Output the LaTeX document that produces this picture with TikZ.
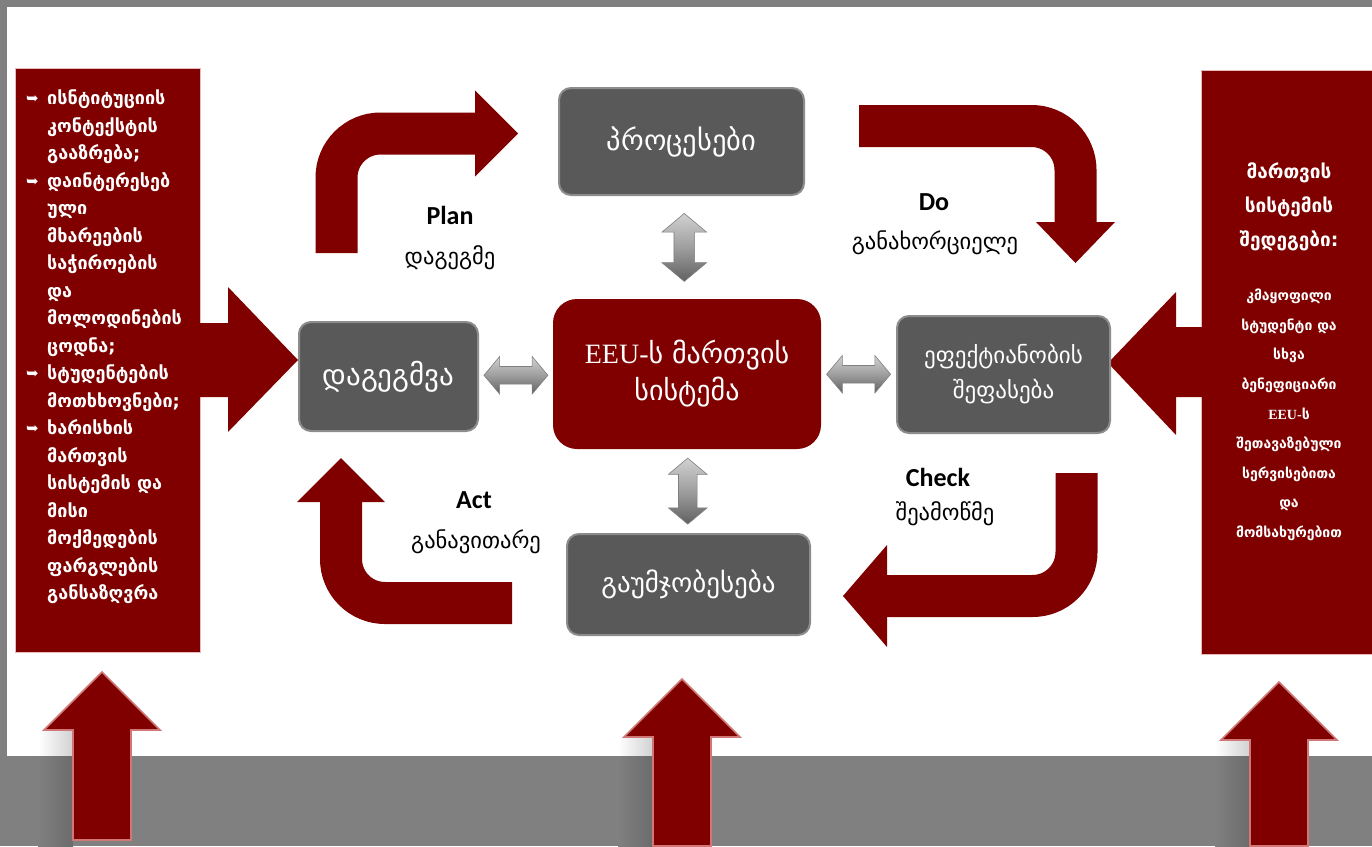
\documentclass[tikz,border=0pt]{standalone}
\usepackage{fontspec}
\setmainfont{DejaVu Sans}
\newfontfamily\calfont{Carlito}
\newfontfamily\serfont{Liberation Serif}
\newfontfamily\symfont{DejaVu Sans}
\usetikzlibrary{shapes.arrows,calc}

\definecolor{eeuRed}{HTML}{800000}
\definecolor{boxGray}{HTML}{595959}
\definecolor{rimGray}{HTML}{8C8C8C}
\definecolor{bgGray}{HTML}{808080}
\definecolor{rimRed}{HTML}{D07878}

\newcommand\lbul{\makebox[21pt][l]{\raisebox{1pt}{\symfont\fontsize{15}{15}\selectfont ➥}}}
\newcommand\lind{\hspace*{21pt}}

\begin{document}
\begin{tikzpicture}[x=1pt, y=-1pt,
    graybox/.style={fill=boxGray, draw=rimGray, line width=2pt, rounded corners=12pt, text=white, align=center, inner sep=0pt},
    corebox/.style={fill=eeuRed, rounded corners=24pt, text=white, align=center, inner sep=0pt},
    sidebox/.style={fill=eeuRed, draw=rimRed!50!white, line width=0.8pt, inner sep=0pt},
    dblarrow/.style={double arrow, double arrow head extend=10pt, double arrow tip angle=100, minimum height=64pt, inner xsep=0pt, inner ysep=8.5pt, shading=axis, top color=black!18, bottom color=black!62, middle color=black!38, draw=black!50, line width=0.6pt},
    bent/.style={draw=eeuRed, line width=42pt, rounded corners=44pt},
    head/.style={fill=eeuRed},
    uparrow/.style={fill=eeuRed, draw=rimRed, line width=1.6pt, line join=miter},
    pdca/.style={font=\calfont\bfseries\fontsize{26}{26}\selectfont},
    pdcageo/.style={font=\fontsize{22.5}{22.5}\selectfont}
]
    % Background
    \useasboundingbox (0,0) rectangle (1372,846);
    \fill[bgGray] (0,0) rectangle (1372,846);
    \fill[white] (7,7) rectangle (1372,756);

    % Side boxes
    \node[sidebox, minimum width=185pt, minimum height=584pt] (inputs) at (107.5,360) {};
    \node[sidebox, minimum width=172pt, minimum height=584pt] (outputs) at (1287,362) {};
    \fill[eeuRed] (199,323) -- (228,323) -- (228,287) -- (298,360) -- (228,432) -- (228,397) -- (199,397) -- cycle;
    \fill[eeuRed] (1202,327) -- (1176,327) -- (1176,292) -- (1108,363) -- (1176,435) -- (1176,397) -- (1202,397) -- cycle;

    \node[text=white, align=left, anchor=north west, inner sep=0pt, font=\bfseries\fontsize{18}{27.5}\selectfont] (inText) at (26,90) {%
        \lbul ისნტიტუციის\\
        \lind კონტექსტის\\
        \lind გააზრება;\\
        \lbul დაინტერესებ\\
        \lind ული\\
        \lind მხარეების\\
        \lind საჭიროების\\
        \lind და\\
        \lind მოლოდინების\\
        \lind ცოდნა;\\
        \lbul სტუდენტების\\
        \lind მოთხხოვნები;\\
        \lbul ხარისხის\\
        \lind მართვის\\
        \lind სისტემის და\\
        \lind მისი\\
        \lind მოქმედების\\
        \lind ფარგლების\\
        \lind განსაზღვრა};

    \node[text=white, align=center, inner sep=0pt, font=\bfseries\fontsize{14}{29.6}\selectfont] (outText) at (1289,352) {%
        {\fontsize{19}{19}\selectfont მართვის}\\[4pt]
        {\fontsize{19}{19}\selectfont სისტემის}\\[4pt]
        {\fontsize{19}{19}\selectfont შედეგები:}\\[25pt]
        კმაყოფილი\\
        სტუდენტი და\\
        სხვა\\
        ბენეფიციარი\\
        {\serfont EEU-}ს\\
        შეთავაზებული\\
        სერვისებითა\\
        და\\
        მომსახურებით};

    % Central boxes
    \node[graybox, minimum width=245pt, minimum height=107pt, font=\fontsize{28.5}{32}\selectfont] (procs) at (681.5,141.5) {პროცესები};
    \node[graybox, minimum width=179pt, minimum height=109pt, font=\fontsize{29}{32}\selectfont] (planning) at (388.5,376.5) {დაგეგმვა};
    \node[corebox, minimum width=268pt, minimum height=150pt, font=\fontsize{28}{37}\selectfont] (core) at (687,374) {{\serfont EEU-}ს მართვის\\სისტემა};
    \node[graybox, minimum width=213pt, minimum height=117pt, font=\fontsize{23}{35}\selectfont] (assess) at (1003.5,374.5) {ეფექტიანობის\\შეფასება};
    \node[graybox, minimum width=243pt, minimum height=101pt, font=\fontsize{27}{30}\selectfont] (improve) at (688.5,584.5) {გაუმჯობესება};

    % Double arrows
    \node[dblarrow] (planCore) at ($(planning.east)!0.5!(core.west)$) {};
    \node[dblarrow] (coreAssess) at ($(core.east)!0.5!(assess.west)$) {};
    \node[dblarrow, rotate=90, minimum height=68pt, inner ysep=10pt, double arrow head extend=12pt] (procsCore) at ($(procs.south)!0.5!(core.north)$) {};
    \node[dblarrow, rotate=90, minimum height=66pt, inner ysep=9pt] (coreImprove) at ($(core.south)!0.5!(improve.north)$) {};

    % PDCA bent arrows
    \coordinate (planFrom) at (336.5,253);
    \coordinate (planTo) at (475,133.5);
    \draw[bent] (planFrom) |- (planTo);
    \fill[head] (planTo) ++(0,-43) -- ++(43,43) -- ++(-43,43) -- cycle;

    \coordinate (doFrom) at (859,126);
    \coordinate (doTo) at (1075.5,222);
    \draw[bent] (doFrom) -| (doTo);
    \fill[head] (doTo) ++(-39.5,0) -- ++(39.5,41) -- ++(39.5,-41) -- cycle;

    \coordinate (checkFrom) at (1076.5,473);
    \coordinate (checkTo) at (887,596);
    \draw[bent] (checkFrom) |- (checkTo);
    \fill[head] (checkTo) ++(0,-51) -- ++(-44,51) -- ++(44,51) -- cycle;

    \coordinate (actFrom) at (512,603);
    \coordinate (actTo) at (341,502);
    \draw[bent] (actFrom) -| (actTo);
    \fill[head] (actTo) ++(-44,0) -- ++(44,-44) -- ++(44,44) -- cycle;

    % PDCA labels
    \node[pdca] (planLbl) at (450,215) {Plan};
    \node[pdcageo] (planGeo) at (450,258) {დაგეგმე};
    \node[pdca] (doLbl) at (934,202) {Do};
    \node[pdcageo] (doGeo) at (935,243) {განახორციელე};
    \node[pdca] (checkLbl) at (938,477) {Check};
    \node[pdcageo] (checkGeo) at (945,514) {შეამოწმე};
    \node[pdca] (actLbl) at (474,500) {Act};
    \node[pdcageo] (actGeo) at (476,542) {განავითარე};

    % Bottom arrows
    \foreach \cx/\ty/\by in {102/672/840, 682/679/846, 1279/682/846} {
        \fill[left color=white, right color=black!18] (\cx-64,\ty+58) rectangle (\cx-29,756);
        \fill[left color=bgGray, right color=black!58] (\cx-64,756) rectangle (\cx-29,846);
        \filldraw[uparrow] (\cx,\ty) -- (\cx+58,\ty+58) -- (\cx+29,\ty+58) -- (\cx+29,\by) -- (\cx-29,\by) -- (\cx-29,\ty+58) -- (\cx-58,\ty+58) -- cycle;
    }
\end{tikzpicture}
\end{document}
